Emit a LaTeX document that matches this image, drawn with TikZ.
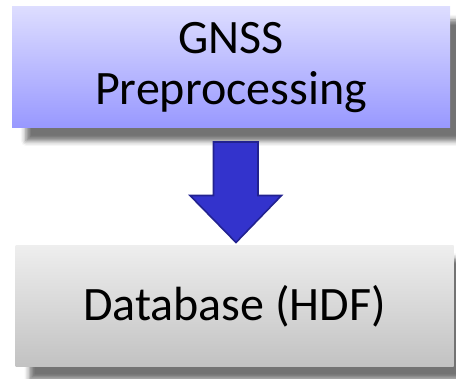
\documentclass[tikz,border=0pt]{standalone}
\usepackage{fontspec}
\setmainfont{Carlito}
\usetikzlibrary{shadows.blur}
\definecolor{boxtop}{HTML}{DDDDFF}
\definecolor{boxbot}{HTML}{9898FF}
\definecolor{graytop}{HTML}{EEEEEE}
\definecolor{graybot}{HTML}{C2C2C2}
\definecolor{arrowfill}{HTML}{3333CC}
\definecolor{arrowline}{HTML}{222290}
\tikzset{
  stagebox/.style={rectangle, minimum width=438pt, minimum height=121pt,
    inner sep=0pt, align=center, font=\fontsize{48}{51}\selectfont,
    blur shadow={shadow xshift=14pt, shadow yshift=-13pt,
      shadow blur radius=5pt, shadow opacity=55}},
  bluebox/.style={stagebox, top color=boxtop, bottom color=boxbot},
  graybox/.style={stagebox, top color=graytop, bottom color=graybot},
  blockarrow/.style={fill=arrowfill, draw=arrowline, line width=1.6pt, line join=miter}
}
\begin{document}
\begin{tikzpicture}[x=1pt,y=1pt]
  \useasboundingbox (0,0) rectangle (456,379);
  % processing stage and its output store
  \node[bluebox] (gnss) at (231,311.5) {GNSS\\Preprocessing};
  \node[graybox] (db) at (234.5,73) {Database (HDF)};
  % block arrow from the stage to the store
  \coordinate (tip) at (236,136.5);
  \draw[blockarrow] (213.5,237) -- (258,237) -- (258,183.5) -- (281.5,183.5)
    -- (tip) -- (190,183.5) -- (213.5,183.5) -- cycle;
\end{tikzpicture}
\end{document}
